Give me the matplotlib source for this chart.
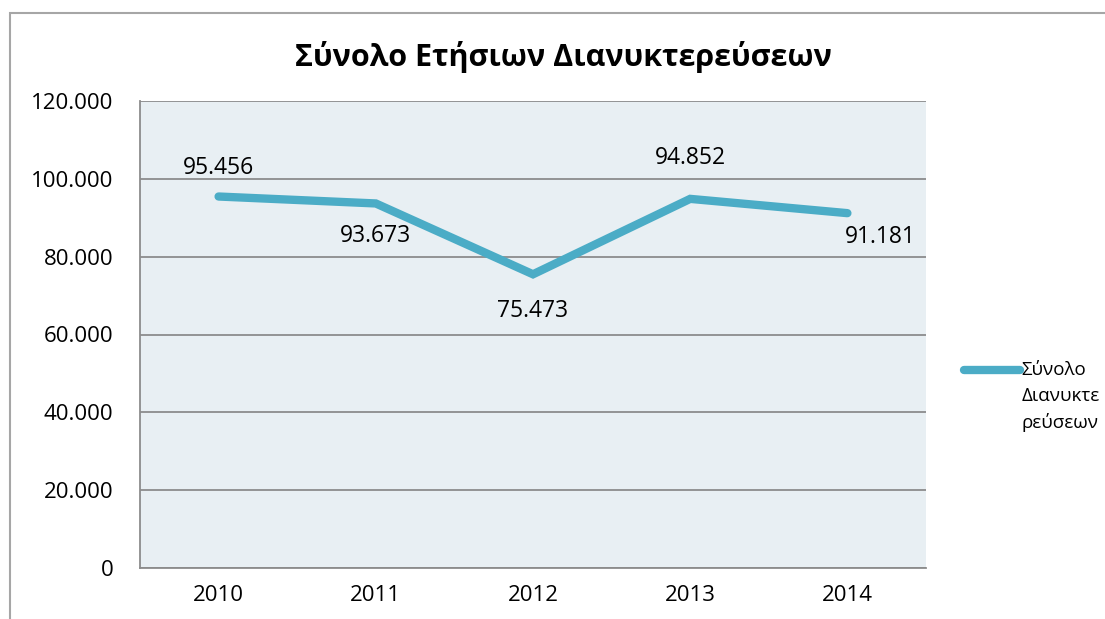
import matplotlib
matplotlib.use("Agg")
import matplotlib.pyplot as plt
from matplotlib.patches import Rectangle
from matplotlib.ticker import FuncFormatter

plt.rcParams['font.family'] = ['Open Sans', 'DejaVu Sans']

# Δεδομένα
years = ["2010", "2011", "2012", "2013", "2014"]
stays = [95456, 93673, 75473, 94852, 91181]
series_name = "Σύνολο\nΔιανυκτε\nρεύσεων"
title = "Σύνολο Ετήσιων Διανυκτερεύσεων"

# θέσεις ετικετών (σε pixels σε σχέση με το σημείο)
label_dx = [0, 0, 0, 0, 33]
label_dy = [29, -33, -37, 41, -24]

line_color = "#4BACC6"
grid_color = "#8C8C8C"


def dotted(v, pos=None):
    return f"{int(v):,}".replace(",", ".")


fig = plt.figure(figsize=(11.05, 6.19), dpi=100)
# εξωτερικό πλαίσιο
fig.patches.append(Rectangle((10 / 1105, -0.1), 1.2, 1.1 - 13 / 619, transform=fig.transFigure,
                             fill=False, edgecolor="#A6A6A6", lw=1.5))

ax = fig.add_axes([140 / 1105, 1 - 568 / 619, 786 / 1105, 467 / 619])
ax.set_facecolor("#E8EFF3")

x = list(range(len(years)))
line, = ax.plot(x, stays, color=line_color, lw=6, solid_capstyle="round",
                solid_joinstyle="miter", label=series_name, zorder=3)

ax.set_xlim(-0.5, len(years) - 0.5)
ax.set_ylim(0, 120000)
ax.set_yticks(range(0, 120001, 20000))
ax.yaxis.set_major_formatter(FuncFormatter(dotted))
ax.set_xticks(x)
ax.set_xticklabels(years)
ax.tick_params(axis="both", length=0, labelsize=16)
ax.tick_params(axis="x", pad=12)
ax.tick_params(axis="y", pad=19)
ax.grid(axis="y", color=grid_color, lw=1.3)
ax.set_axisbelow(True)

for s in ["top", "right"]:
    ax.spines[s].set_visible(False)
for s in ["left", "bottom"]:
    ax.spines[s].set_color(grid_color)
    ax.spines[s].set_linewidth(1.3)

for i, v in enumerate(stays):
    ax.annotate(dotted(v), (i, v), xytext=(label_dx[i], label_dy[i]), textcoords="offset pixels",
                ha="center", va="center", fontsize=16.5)

fig.text(563 / 1105, 1 - 57 / 619, title, ha="center", va="center",
         fontsize=22, fontweight="bold")

leg = fig.legend(handles=[line], loc="upper left", bbox_to_anchor=(955 / 1105, 1 - 352 / 619),
                 frameon=False, fontsize=13.5, handlelength=2.95, handletextpad=0.1,
                 labelspacing=0.2, borderpad=0)
leg.get_texts()[0].set_linespacing(1.55)
# η γραμμή του υπομνήματος στο ύψος της πρώτης γραμμής κειμένου
hl = leg.legend_handles[0]
yd = hl.get_ydata()
hl.set_ydata([y + 20 for y in yd])

fig.savefig("out.png", dpi=100)
